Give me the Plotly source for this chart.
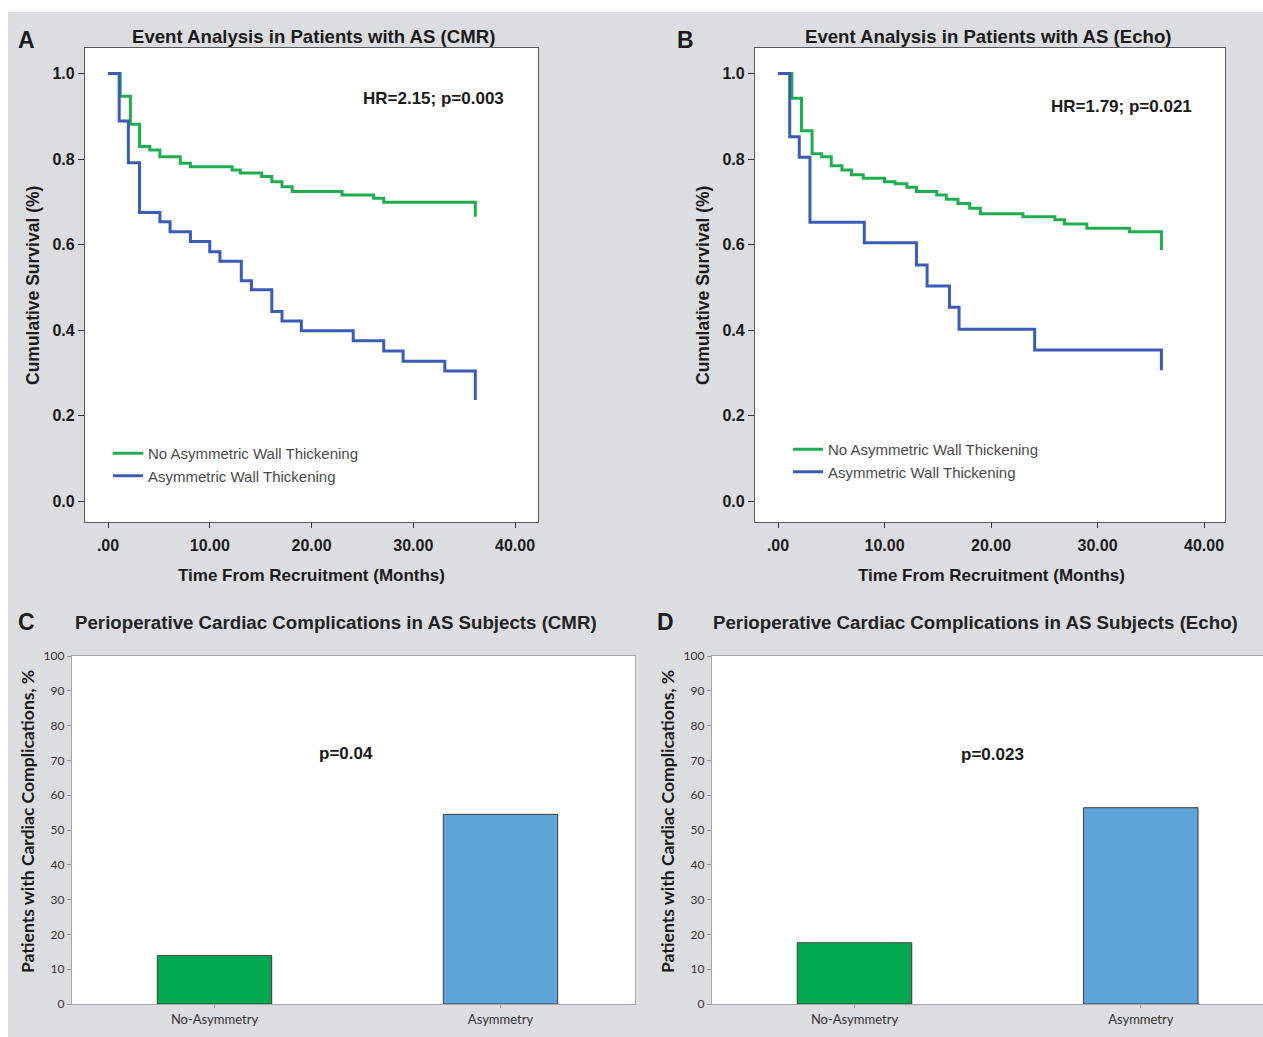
import plotly.graph_objects as go

# ---------------- data ----------------
# Panel A (CMR) Kaplan-Meier steps
a_no_time = [0, 1.2, 2.2, 3.1, 4.1, 5.1, 7.1, 8.1, 12.2, 13.0, 15.1, 16.1, 17.1, 18.1, 23.0, 26.1, 27.1, 36.1]
a_no_surv = [1.0, 0.947, 0.881, 0.829, 0.821, 0.805, 0.790, 0.782, 0.774, 0.767, 0.759, 0.747, 0.735, 0.724, 0.716, 0.708, 0.699, 0.665]
a_asym_time = [0, 1.1, 2.0, 3.1, 5.1, 6.1, 8.1, 10.0, 11.0, 13.1, 14.1, 16.1, 17.1, 19.0, 24.1, 27.1, 29.0, 33.1, 36.1]
a_asym_surv = [1.0, 0.889, 0.791, 0.675, 0.653, 0.630, 0.607, 0.583, 0.561, 0.515, 0.494, 0.443, 0.421, 0.398, 0.375, 0.351, 0.327, 0.304, 0.236]

# Panel B (Echo) Kaplan-Meier steps
b_no_time = [0, 1.3, 2.2, 3.2, 4.1, 5.0, 6.0, 6.9, 8.0, 10.0, 11.0, 12.1, 13.0, 14.9, 15.8, 16.9, 18.0, 19.0, 23.0, 26.0, 26.9, 29.0, 33.0, 36.0]
b_no_surv = [1.0, 0.942, 0.866, 0.812, 0.805, 0.784, 0.774, 0.763, 0.755, 0.747, 0.742, 0.734, 0.724, 0.716, 0.706, 0.696, 0.685, 0.672, 0.665, 0.658, 0.648, 0.638, 0.630, 0.587]
b_asym_time = [0, 1.1, 2.0, 3.0, 8.1, 13.0, 14.0, 16.1, 17.0, 24.1, 36.0]
b_asym_surv = [1.0, 0.852, 0.804, 0.652, 0.604, 0.552, 0.503, 0.453, 0.402, 0.353, 0.306]

km_x_ticks = [0, 10, 20, 30, 40]
km_x_ticktext = [".00", "10.00", "20.00", "30.00", "40.00"]
km_y_ticks = [0.0, 0.2, 0.4, 0.6, 0.8, 1.0]
km_y_ticktext = ["0.0", "0.2", "0.4", "0.6", "0.8", "1.0"]

series_names = ["No Asymmetric Wall Thickening", "Asymmetric Wall Thickening"]

# Panels C and D bar charts
bar_categories = ["No-Asymmetry", "Asymmetry"]
c_values = [13.9, 54.5]
d_values = [17.6, 56.4]
bar_y_ticks = [0, 10, 20, 30, 40, 50, 60, 70, 80, 90, 100]

# ---------------- styling ----------------
W, H = 1263, 1037
GREEN_KM = "#1fae4f"
BLUE_KM = "#3b5bb9"
GREEN_BAR = "#00a84f"
BLUE_BAR = "#5ea4d8"
BG = "rgb(220,221,224)"
ARIAL = "Liberation Sans, Arial, sans-serif"
CALIBRI = "Lato, Liberation Sans, sans-serif"


def px(x):
    return x / W


def py(y):
    return 1 - y / H


fig = go.Figure()

# KM traces
for xa, ya, leg, data in [
    ("x", "y", "legend", [(a_no_time, a_no_surv, GREEN_KM), (a_asym_time, a_asym_surv, BLUE_KM)]),
    ("x2", "y2", "legend2", [(b_no_time, b_no_surv, GREEN_KM), (b_asym_time, b_asym_surv, BLUE_KM)]),
]:
    for (t, s, col), name in zip(data, series_names):
        fig.add_trace(go.Scatter(
            x=t, y=s, mode="lines", line=dict(shape="hv", color=col, width=3),
            name=name, xaxis=xa, yaxis=ya, legend=leg, hoverinfo="x+y",
        ))

# Bar traces
for xa, ya, vals in [("x3", "y3", c_values), ("x4", "y4", d_values)]:
    fig.add_trace(go.Bar(
        x=bar_categories, y=vals, width=0.40,
        marker=dict(color=[GREEN_BAR, BLUE_BAR], line=dict(color="#3c3c3c", width=1)),
        xaxis=xa, yaxis=ya, showlegend=False,
    ))

km_tickfont = dict(family=ARIAL, size=16, color="#1a1a1a", weight="bold")


def km_xaxis(l, r, x0):
    return dict(
        domain=[px(l), px(r)], range=[(l - x0[0]) / x0[1], (r - x0[0]) / x0[1]],
        tickvals=km_x_ticks, ticktext=km_x_ticktext, ticks="outside", ticklen=5, tickcolor="#333",
        showline=True, linecolor="#5a5a5a", linewidth=1.2, mirror=True, showgrid=False, zeroline=False,
        tickfont=km_tickfont, ticklabelstandoff=4, fixedrange=True, automargin=False,
    )


def km_yaxis():
    return dict(
        domain=[py(522), py(48)], range=[(501 - 522) / 427.5, (501 - 48) / 427.5],
        tickvals=km_y_ticks, ticktext=km_y_ticktext, ticks="outside", ticklen=6, tickcolor="#333",
        showline=True, linecolor="#5a5a5a", linewidth=1.2, mirror=True, showgrid=False, zeroline=False,
        tickfont=km_tickfont, fixedrange=True, automargin=False,
    )


bar_tickfont_x = dict(family=CALIBRI, size=13, color="#333")
bar_tickfont_y = dict(family=CALIBRI, size=12, color="#333")


def bar_xaxis(l, r, c0, unit):
    return dict(
        domain=[px(l), min(1.0, px(r))], type="category",
        range=[(l - c0) / unit, (r - c0) / unit],
        ticks="outside", ticklen=3, tickcolor="#999",
        showline=True, linecolor="#a8a8a8", linewidth=1.2, mirror=True, showgrid=False, zeroline=False,
        tickfont=bar_tickfont_x, ticklabelstandoff=0, fixedrange=True, automargin=False,
    )


def bar_yaxis():
    return dict(
        domain=[py(1004), py(656)], range=[0, 100], tickvals=bar_y_ticks,
        ticks="outside", ticklen=4, tickcolor="#999",
        showline=True, linecolor="#a8a8a8", linewidth=1.2, mirror=True, showgrid=False, zeroline=False,
        tickfont=bar_tickfont_y, fixedrange=True, automargin=False,
    )


xa1 = km_xaxis(85, 538, (108, 10.175)); xa1["anchor"] = "y"
xa2 = km_xaxis(755, 1225, (778, 10.65)); xa2["anchor"] = "y2"
ya1 = km_yaxis(); ya1["anchor"] = "x"
ya2 = km_yaxis(); ya2["anchor"] = "x2"
xa3 = bar_xaxis(72, 635, 214.5, 286.0); xa3["anchor"] = "y3"
xa4 = bar_xaxis(712, 1263, 854.5, 286.3); xa4["anchor"] = "y4"
ya3 = bar_yaxis(); ya3["anchor"] = "x3"
ya4 = bar_yaxis(); ya4["anchor"] = "x4"


def ann(text, x, y, size, bold=False, family=ARIAL, color="#1a1a1a", angle=0):
    return dict(
        text=text, x=px(x), y=py(y), xref="paper", yref="paper", showarrow=False,
        xanchor="center", yanchor="middle", textangle=angle,
        font=dict(family=family, size=size, color=color, weight="bold" if bold else "normal"),
    )


annotations = [
    ann("A", 26, 40, 23, bold=True),
    ann("B", 685, 40, 23, bold=True),
    ann("C", 27, 622, 23, bold=True),
    ann("D", 665, 622, 23, bold=True),
    ann("Event Analysis in Patients with AS (CMR)", 313, 36, 18.6, bold=True),
    ann("Event Analysis in Patients with AS (Echo)", 988, 36, 18.6, bold=True),
    ann("HR=2.15; p=0.003", 433, 99, 17, bold=True),
    ann("HR=1.79; p=0.021", 1121, 106, 17, bold=True),
    ann("Time From Recruitment (Months)", 311, 575, 17, bold=True),
    ann("Time From Recruitment (Months)", 991, 575, 17, bold=True),
    ann("Cumulative Survival (%)", 33, 286, 17.5, bold=True, angle=-90),
    ann("Cumulative Survival (%)", 703, 286, 17.5, bold=True, angle=-90),
    ann("Perioperative Cardiac Complications in AS Subjects (CMR)", 336, 622, 18.7, bold=True, color="#222"),
    ann("Perioperative Cardiac Complications in AS Subjects (Echo)", 976, 622, 18.7, bold=True, color="#222"),
    ann("Patients with Cardiac Complications, %", 27, 822, 17.5, bold=True, family=CALIBRI, angle=-90),
    ann("Patients with Cardiac Complications, %", 667, 822, 17.5, bold=True, family=CALIBRI, angle=-90),
    ann("p=0.04", 346, 753, 17, bold=True),
    ann("p=0.023", 992, 754, 17, bold=True),
]

legend_font = dict(family=ARIAL, size=15, color="#4a4a4a")

fig.update_layout(
    width=W, height=H, margin=dict(l=0, r=0, t=0, b=0, pad=0, autoexpand=False),
    paper_bgcolor=BG, plot_bgcolor="white",
    xaxis=xa1, yaxis=ya1, xaxis2=xa2, yaxis2=ya2,
    xaxis3=xa3, yaxis3=ya3, xaxis4=xa4, yaxis4=ya4,
    annotations=annotations,
    legend=dict(x=px(108), y=py(437), xanchor="left", yanchor="top", bgcolor="rgba(0,0,0,0)",
                font=legend_font, itemwidth=30, tracegroupgap=0),
    legend2=dict(x=px(788), y=py(433), xanchor="left", yanchor="top", bgcolor="rgba(0,0,0,0)",
                 font=legend_font, itemwidth=30, tracegroupgap=0),
    shapes=[
        dict(type="rect", xref="paper", yref="paper", x0=0, x1=1, y0=py(12), y1=1,
             fillcolor="white", line=dict(width=0), layer="above"),
        dict(type="rect", xref="paper", yref="paper", x0=0, x1=px(8), y0=0, y1=1,
             fillcolor="white", line=dict(width=0), layer="above"),
    ],
    bargap=0.5,
)

fig.write_html(
    "out.html",
    config={"displayModeBar": False},
    post_script="document.body.style.margin='0';document.body.style.overflow='hidden';",
)
